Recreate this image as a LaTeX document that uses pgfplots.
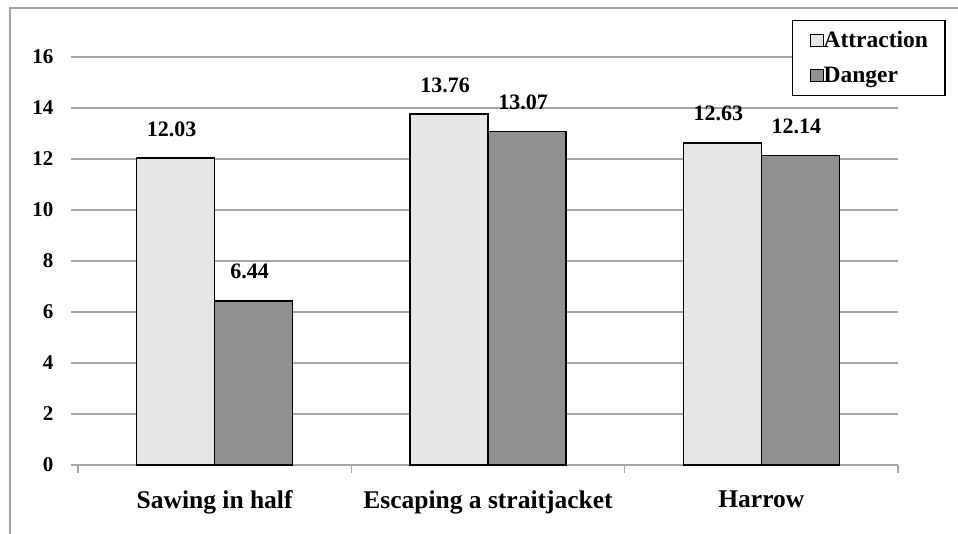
\documentclass[border=0pt]{standalone}
\usepackage{pgfplots}
\pgfplotsset{compat=1.18}
\usepackage{fontspec}
\setmainfont{Liberation Serif}
\definecolor{lightbar}{HTML}{E6E6E6}
\definecolor{darkbar}{HTML}{909090}
\definecolor{gridgray}{HTML}{A6A6A6}
\begin{document}
\begin{tikzpicture}[x=1pt,y=1pt]
\useasboundingbox (0,0) rectangle (958,534);
\draw[gridgray, line width=2pt] (10,-5) -- (10,526) -- (970,526);
\begin{axis}[
  at={(78pt,69pt)}, anchor=south west,
  scale only axis, width=820pt, height=408pt,
  ybar=0pt, bar width=78pt,
  xmin=-0.5, xmax=2.5, ymin=0, ymax=16,
  xtick={0,1,2},
  xticklabels={Sawing in half, Escaping a straitjacket, Harrow},
  minor xtick={-0.5,0.5,1.5,2.5},
  major x tick style={draw=none},
  minor x tick style={gridgray, line width=1.5pt},
  minor tick length=8pt,
  x tick label style={font=\fontsize{25.5}{28}\selectfont\bfseries, yshift=-15pt},
  ytick={0,2,...,16},
  ymajorgrids,
  grid style={gridgray, line width=1.5pt},
  major y tick style={gridgray, line width=1.5pt},
  major tick length=7pt,
  tick align=outside,
  axis x line*=bottom, axis y line*=left,
  y axis line style={draw=none},
  x axis line style={gridgray, line width=1.5pt, -},
  /pgf/number format/assume math mode=true,
  y tick label style={font=\fontsize{21}{24}\selectfont\bfseries, xshift=-14pt},
  nodes near coords,
  nodes near coords style={font=\fontsize{22}{25}\selectfont\bfseries, /pgf/number format/fixed, /pgf/number format/fixed zerofill, /pgf/number format/precision=2, inner sep=0pt, anchor=south, yshift=21pt, xshift=-4pt, text=black},
  legend style={at={(0.8707,1.0907)}, anchor=north west, draw=black, line width=1.2pt,
    font=\fontsize{23.5}{26}\selectfont\bfseries, inner xsep=17pt, inner ysep=9pt, row sep=14pt,
    nodes={inner xsep=0pt, inner ysep=2pt}},
  legend cell align=left,
  legend image code/.code={\draw[#1, draw=black, line width=1pt] (0pt,-6pt) rectangle (13pt,6pt);},
  clip=false,
]
\addplot[fill=lightbar, draw=black, line width=1.5pt] coordinates {(0,12.03) (1,13.76) (2,12.63)};
\addplot[fill=darkbar, draw=black, line width=1.5pt] coordinates {(0,6.44) (1,13.07) (2,12.14)};
\legend{Attraction\hspace{32pt}, Danger}
\end{axis}
\end{tikzpicture}
\end{document}
